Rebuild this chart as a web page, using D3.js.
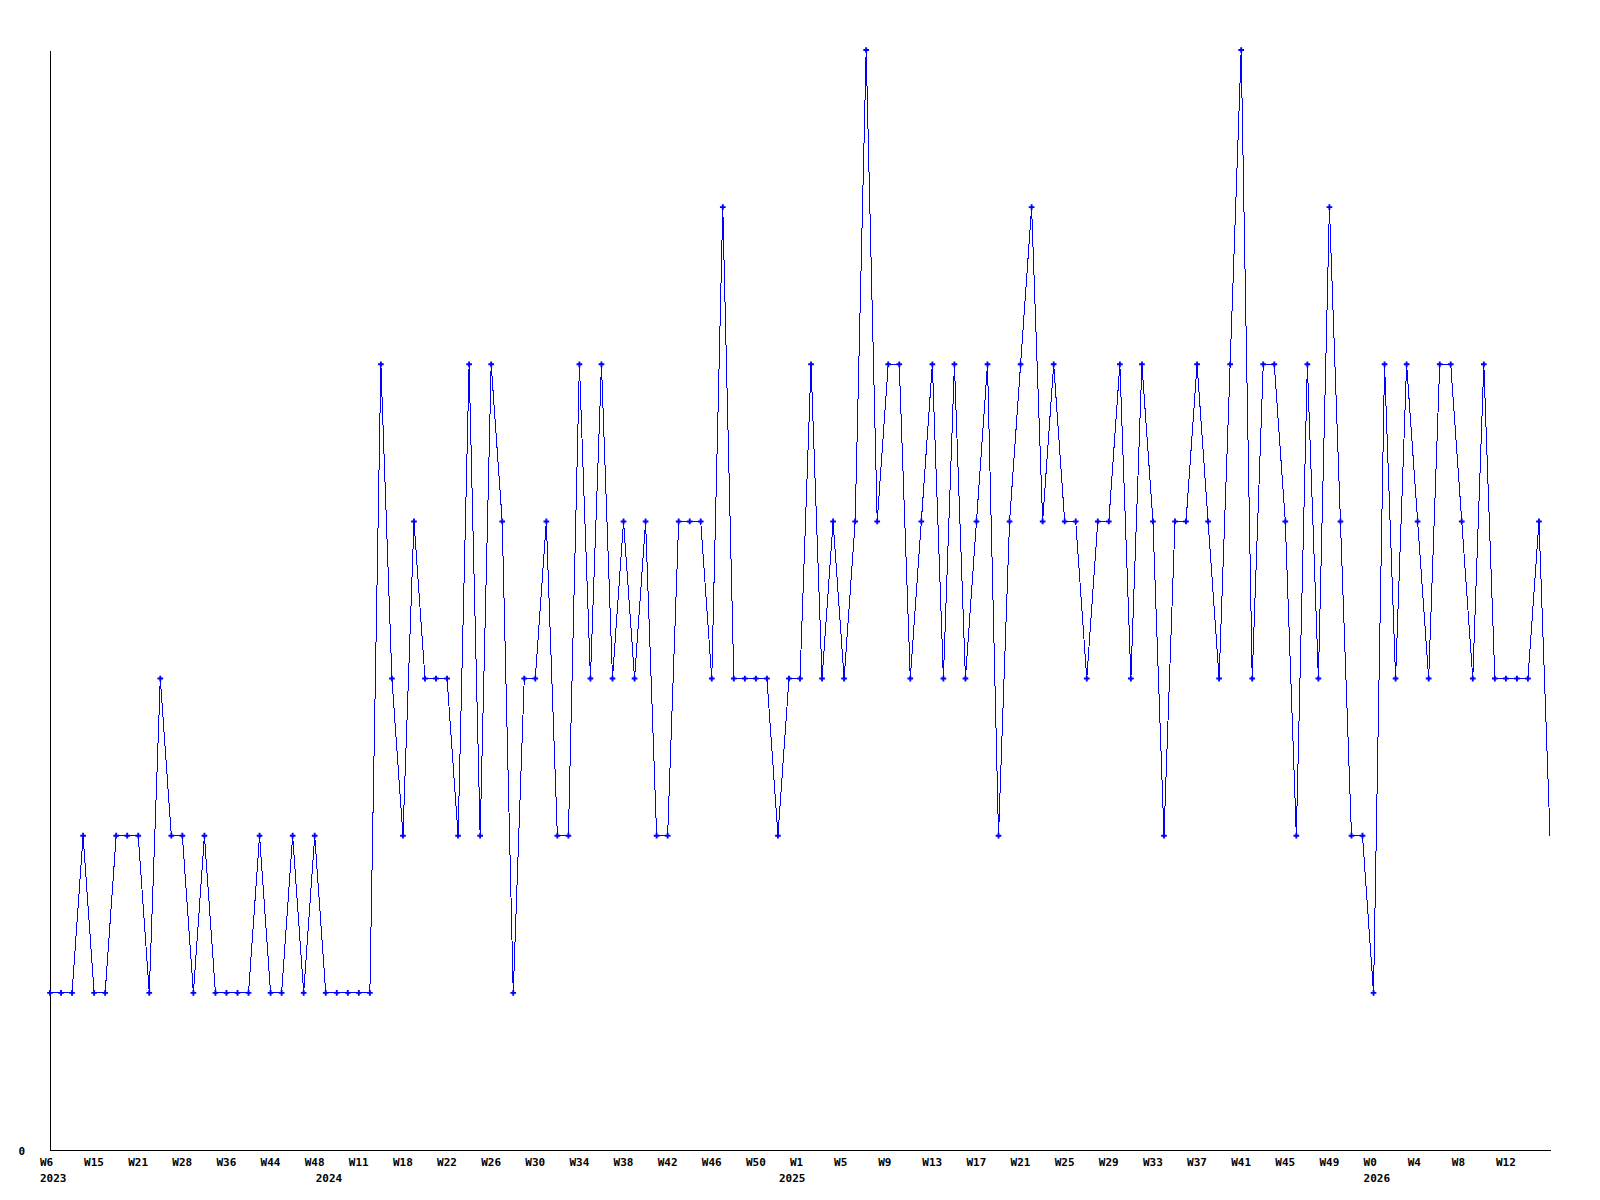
<!DOCTYPE html>
<html>
<head>
<meta charset="utf-8">
<script src="https://cdn.jsdelivr.net/npm/d3@7"></script>
<style>
  html, body { margin: 0; padding: 0; background: #ffffff; }
  svg { display: block; }
  .axis text { font-family: "DejaVu Sans Mono", monospace; font-weight: bold; font-size: 11px; fill: #000; }
</style>
</head>
<body>
<svg id="chart" width="1600" height="1200"></svg>
<script>
// Weekly values, one per plotted point (137 points)
const values = [
  1,1,1,2,1,1,2,2,2,1,
  3,2,2,1,2,1,1,1,1,2,
  1,1,2,1,2,1,1,1,1,1,
  5,3,2,4,3,3,3,2,5,2,
  5,4,1,3,3,4,2,2,5,3,
  5,3,4,3,4,2,2,4,4,4,
  3,6,3,3,3,3,2,3,3,5,
  3,4,3,4,7,4,5,5,3,4,
  5,3,5,3,4,5,2,4,5,6,
  4,5,4,4,3,4,4,5,3,5,
  4,2,4,4,5,4,3,5,7,3,
  5,5,4,2,5,3,6,4,2,2,
  1,5,3,5,4,3,5,5,4,3,
  5,3,3,3,3,4,2
];

// Week tick labels, shown every 4th point
const tickLabels = [
  "W6","W15","W21","W28","W36","W44","W48",
  "W11","W18","W22","W26","W30","W34","W38","W42","W46","W50",
  "W1","W5","W9","W13","W17","W21","W25","W29","W33","W37","W41","W45","W49",
  "W0","W4","W8","W12"
];
const tickEvery = 4;

// Year labels and the index of the first point of each year
const yearLabels = ["2023","2024","2025","2026"];
const yearStartIndex = [0, 25, 67, 120];

const yTicks = [0];
const yMax = 7;

const svg = d3.select("#chart");
const mLeft = 50, mRight = 1550, mTop = 50, mBottom = 1150;

const x = d3.scaleLinear().domain([0, values.length - 1]).range([mLeft, mRight]);
const y = d3.scaleLinear().domain([0, yMax]).range([mBottom, mTop]);

const tickIdx = tickLabels.map((d, i) => i * tickEvery);

// X axis (week labels)
const xAxis = d3.axisBottom(x)
  .tickValues(tickIdx)
  .tickFormat((d, i) => tickLabels[i])
  .tickSize(0)
  .tickSizeOuter(0);

const gx = svg.append("g").attr("class", "axis")
  .attr("transform", `translate(0,${mBottom})`)
  .call(xAxis);
gx.select(".domain").attr("stroke", "#000").attr("stroke-width", 1).attr("shape-rendering", "crispEdges");
gx.selectAll(".tick text")
  .attr("text-anchor", "start")
  .attr("x", -10.5)
  .attr("y", 0)
  .attr("dy", 16);

// Year labels as a second axis row
const yearAxis = d3.axisBottom(x)
  .tickValues(yearStartIndex)
  .tickFormat((d, i) => yearLabels[i])
  .tickSize(0)
  .tickSizeOuter(0);
const gyear = svg.append("g").attr("class", "axis")
  .attr("transform", `translate(0,${mBottom})`)
  .call(yearAxis);
gyear.select(".domain").remove();
gyear.selectAll(".tick text")
  .attr("text-anchor", "start")
  .attr("x", -10.5)
  .attr("y", 0)
  .attr("dy", 32);

// Y axis
const yAxis = d3.axisLeft(y).tickValues(yTicks).tickFormat(d3.format("d")).tickSize(0).tickSizeOuter(0);
const gy = svg.append("g").attr("class", "axis")
  .attr("transform", `translate(${mLeft},0)`)
  .call(yAxis);
gy.select(".domain").attr("stroke", "#000").attr("stroke-width", 1).attr("shape-rendering", "crispEdges");
gy.selectAll(".tick text")
  .attr("text-anchor", "end")
  .attr("x", -25)
  .attr("dy", 4);

// Line
const line = d3.line().x((d, i) => x(i)).y(d => y(d));
svg.append("path")
  .datum(values)
  .attr("fill", "none")
  .attr("stroke", "#0000ff")
  .attr("stroke-width", 1)
  .attr("shape-rendering", "crispEdges")
  .attr("d", line);

// Point markers
const sym = d3.symbol().type(d3.symbolCross).size(18);
svg.append("g").selectAll("path")
  .data(values.slice(0, values.length - 1))
  .join("path")
  .attr("transform", (d, i) => `translate(${x(i)},${y(d)})`)
  .attr("d", sym)
  .attr("fill", "#0000ff");
</script>
</body>
</html>
